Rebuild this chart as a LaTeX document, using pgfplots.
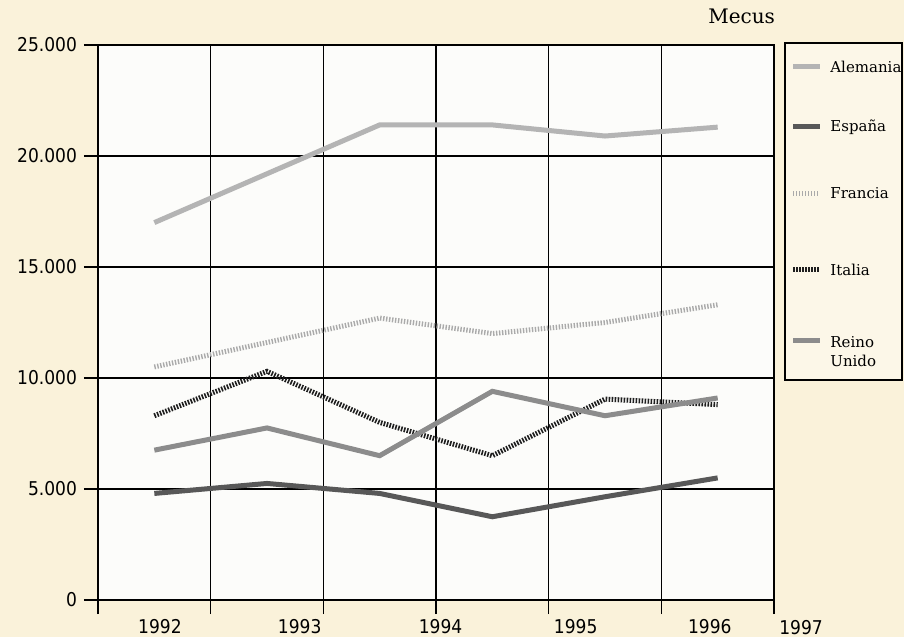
\documentclass[border=0pt]{standalone}
\usepackage{pgfplots}
\pgfplotsset{compat=1.18}
\usepackage{fontspec}
\setmainfont{DejaVu Serif}
\newfontfamily\tickfont{DejaVu Sans Condensed}

\definecolor{paper}{RGB}{250,242,218}
\definecolor{plotbg}{RGB}{252,252,250}
\definecolor{legbg}{RGB}{252,247,232}
\definecolor{cAle}{RGB}{180,180,180}
\definecolor{cEsp}{RGB}{88,88,88}
\definecolor{cFra}{RGB}{170,170,170}
\definecolor{cIta}{RGB}{30,30,30}
\definecolor{cRei}{RGB}{140,140,140}

\tikzset{
  ale/.style={cAle,line width=2.5bp},
  esp/.style={cEsp,line width=2.5bp},
  fra/.style={cFra,line width=2.5bp,dash pattern=on 0.7bp off 0.8bp},
  ita/.style={cIta,line width=2.5bp,dash pattern=on 0.8bp off 0.7bp},
  rei/.style={cRei,line width=2.5bp},
}

\begin{document}
\begin{tikzpicture}
\fill[paper] (0,0) rectangle (452bp,318.5bp);
\begin{axis}[at={(49bp,18.5bp)},anchor=south west,
 width=338bp,height=277.5bp,scale only axis,clip=false,
 xmin=0,xmax=6,ymin=0,ymax=25000,
 axis background/.style={fill=plotbg},
 xtick={0,...,6},xticklabels={},
 ytick={0,5000,...,25000},
 xtick pos=bottom,ytick pos=left,tick align=outside,
 major tick length=7bp,
 xmajorgrids,ymajorgrids,
 grid style={black,line width=0.65bp},
 tick style={black,line width=0.65bp},
 axis line style={line width=0.65bp},
 scaled y ticks=false,
 yticklabel style={font=\tickfont\fontsize{9.5bp}{11bp}\selectfont,
   /pgf/number format/.cd,1000 sep={.},assume math mode=true},
 extra x ticks={0.55,1.79,3.04,4.24,5.43},
 extra x tick labels={1992,1993,1994,1995,1996},
 extra x tick style={major tick length=0pt,grid=none,
   tick label style={font=\tickfont\fontsize{9.5bp}{11bp}\selectfont,yshift=-6bp}},
]
\addplot[ale] coordinates {(0.5,17000) (1.5,19200) (2.5,21400) (3.5,21400) (4.5,20900) (5.5,21300)};
\addplot[fra] coordinates {(0.5,10500) (1.5,11600) (2.5,12700) (3.5,12000) (4.5,12500) (5.5,13300)};
\addplot[ita] coordinates {(0.5,8300) (1.5,10300) (2.5,8000) (3.5,6500) (4.5,9050) (5.5,8800)};
\addplot[rei] coordinates {(0.5,6750) (1.5,7750) (2.5,6500) (3.5,9400) (4.5,8300) (5.5,9100)};
\addplot[esp] coordinates {(0.5,4800) (1.5,5250) (2.5,4800) (3.5,3750) (4.5,4650) (5.5,5500)};

% year at the right end, units label
\node[font=\tickfont\fontsize{9.5bp}{11bp}\selectfont] at (rel axis cs:1.04,0) [yshift=-14bp] {1997};
\node[anchor=base east,inner sep=0pt,font=\fontsize{10bp}{12bp}\selectfont] at (rel axis cs:1.002,1) [yshift=10.5bp] {Mecus};

% legend
\draw[fill=legbg,line width=0.65bp] (rel axis cs:1.0163,1.0036) rectangle (rel axis cs:1.1893,0.3964);
\begin{scope}[every node/.style={anchor=west,font=\fontsize{7.5bp}{9.5bp}\selectfont,inner sep=0pt,align=left}]
\draw[ale] (rel axis cs:1.0281,0.9604) -- (rel axis cs:1.068,0.9604);
\node at (rel axis cs:1.0828,0.9604) {Alemania};
\draw[esp] (rel axis cs:1.0281,0.8523) -- (rel axis cs:1.068,0.8523);
\node at (rel axis cs:1.0828,0.8523) {España};
\draw[fra] (rel axis cs:1.0281,0.7333) -- (rel axis cs:1.068,0.7333);
\node at (rel axis cs:1.0828,0.7333) {Francia};
\draw[ita] (rel axis cs:1.0281,0.5946) -- (rel axis cs:1.068,0.5946);
\node at (rel axis cs:1.0828,0.5946) {Italia};
\draw[rei] (rel axis cs:1.0281,0.4667) -- (rel axis cs:1.068,0.4667);
\node at (rel axis cs:1.0828,0.4468) {Reino\\Unido};
\end{scope}
\end{axis}
\pgfresetboundingbox
\useasboundingbox (0,0) rectangle (452bp,318.5bp);
\end{tikzpicture}
\end{document}
